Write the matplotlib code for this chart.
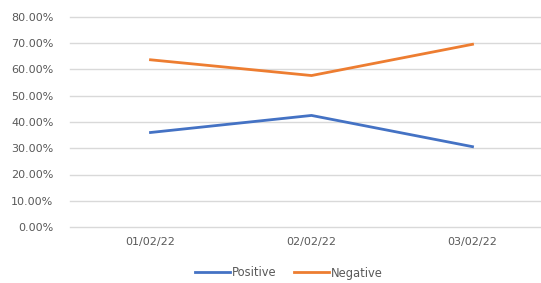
import numpy as np
import matplotlib.pyplot as plt
from matplotlib.ticker import FuncFormatter

dates = ['01/02/22', '02/02/22', '03/02/22']
positive = [0.360, 0.425, 0.306]
negative = [0.637, 0.577, 0.696]

fig = plt.figure(figsize=(5.41, 2.83), dpi=100)
ax = fig.add_axes([70/541, 1-227/283, 471/541, 210/283])

x = np.arange(len(dates))
ax.plot(x, positive, color='#4472C4', lw=2.0, label='Positive')
ax.plot(x, negative, color='#ED7D31', lw=2.0, label='Negative')

ax.set_xlim(-0.5, -0.5 + 471/161)
ax.set_ylim(0, 0.8)
ax.set_yticks(np.arange(0, 0.81, 0.1))
ax.yaxis.set_major_formatter(FuncFormatter(lambda v, p: '%.2f%%' % (v*100)))
ax.set_xticks(x)
ax.set_xticklabels(dates)
ax.grid(axis='y', color='#D9D9D9', lw=1, clip_on=False)
ax.set_axisbelow(True)
for s in ax.spines.values():
    s.set_visible(False)
ax.tick_params(length=0, labelsize=8, labelcolor='#595959')
ax.tick_params(axis='y', pad=12)
ax.tick_params(axis='x', pad=7)

fig.legend(loc='center', bbox_to_anchor=(289/541, 1-273/283), ncol=2, frameon=False,
           fontsize=8.3, labelcolor='#595959', handlelength=3, handletextpad=0.2,
           columnspacing=1.5)

fig.savefig('out.png', dpi=100)
